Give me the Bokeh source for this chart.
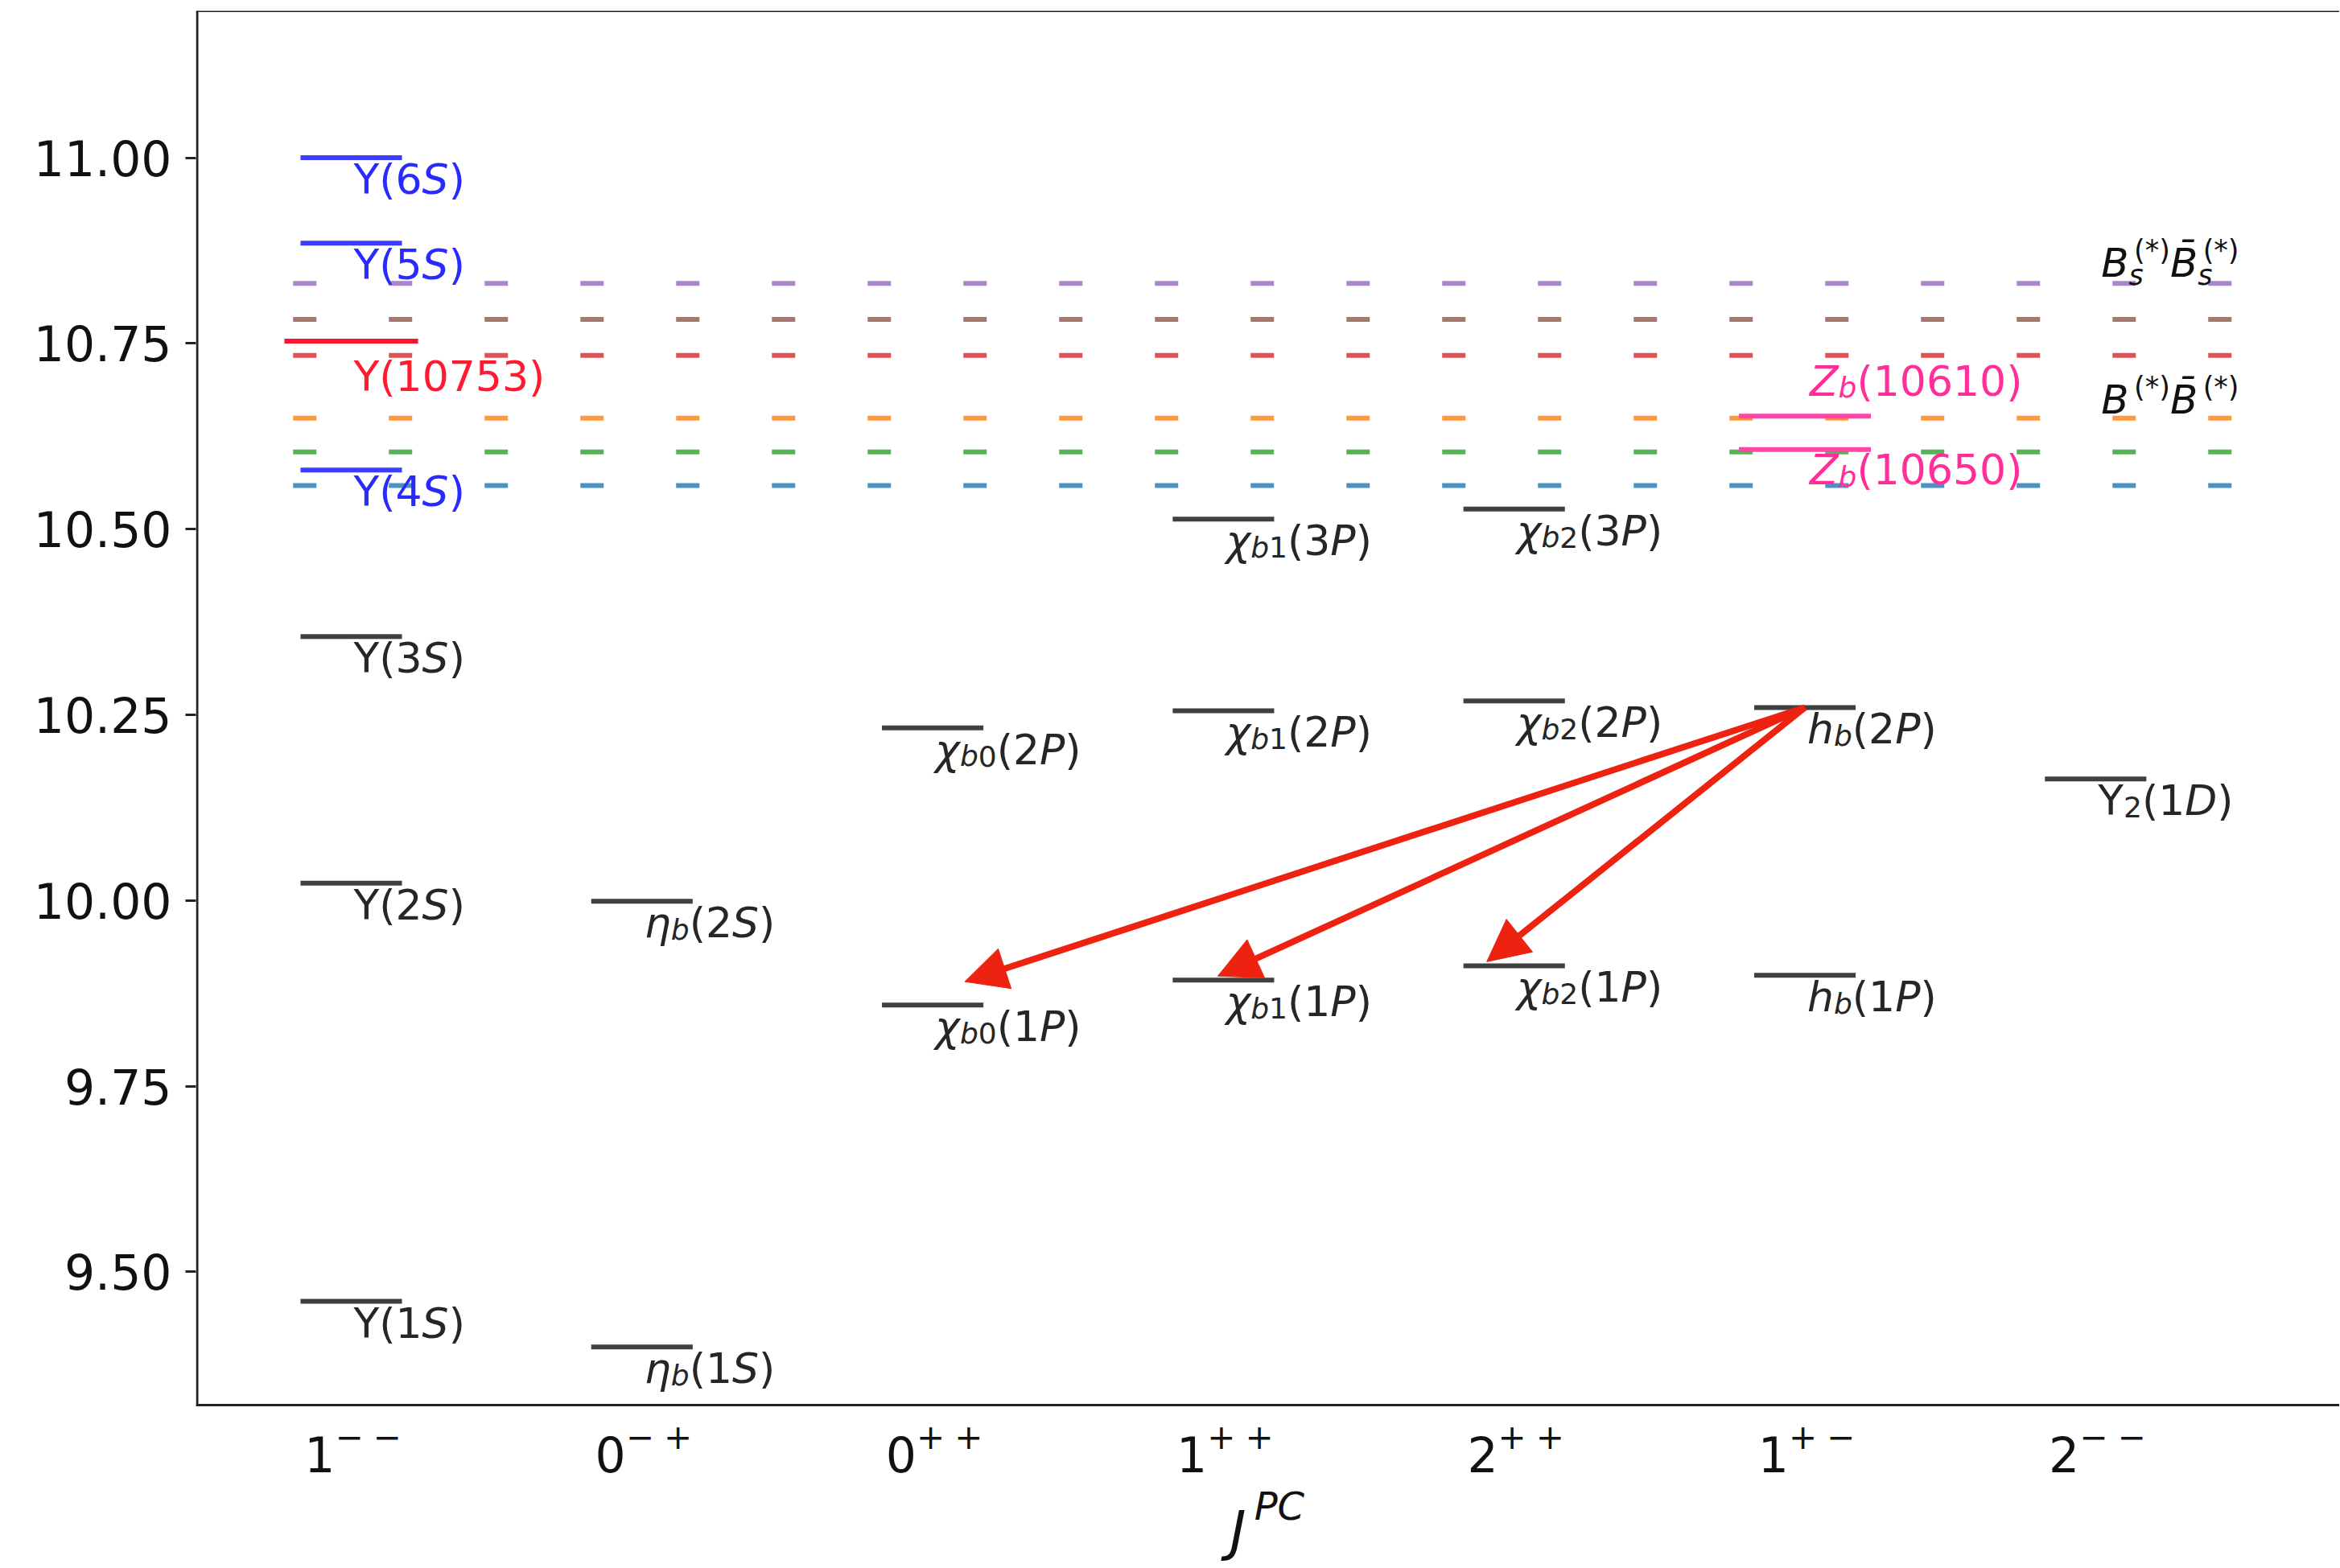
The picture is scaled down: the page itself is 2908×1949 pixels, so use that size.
from bokeh.plotting import figure
from bokeh.models import (Range1d, FixedTicker, PrintfTickFormatter, ColumnDataSource,
                          Arrow, NormalHead, Span)
from bokeh.core.properties import value
from bokeh.embed import file_html
from bokeh.resources import INLINE

# ---------------------------------------------------------------- data
# markup: $..$ italic, _{..} subscript, ^{..} superscript
jpc_labels = ["1^{\u2212}^{\u2212}", "0^{\u2212}^{+}", "0^{+}^{+}", "1^{+}^{+}",
              "2^{+}^{+}", "1^{+}^{\u2212}", "2^{\u2212}^{\u2212}"]
y_ticks = [9.50, 9.75, 10.00, 10.25, 10.50, 10.75, 11.00]

state_labels = ["Υ(1$S$)", "Υ(2$S$)", "Υ(3$S$)", "Υ(4$S$)", "Υ(10753)", "Υ(5$S$)", "Υ(6$S$)",
                "$η$_{$b$}(1$S$)", "$η$_{$b$}(2$S$)",
                "$χ$_{$b$0}(1$P$)", "$χ$_{$b$0}(2$P$)",
                "$χ$_{$b$1}(1$P$)", "$χ$_{$b$1}(2$P$)", "$χ$_{$b$1}(3$P$)",
                "$χ$_{$b$2}(1$P$)", "$χ$_{$b$2}(2$P$)", "$χ$_{$b$2}(3$P$)",
                "$h$_{$b$}(1$P$)", "$h$_{$b$}(2$P$)",
                "$Z$_{$b$}(10610)", "$Z$_{$b$}(10650)",
                "Υ_{2}(1$D$)"]
state_jpc = [0, 0, 0, 0, 0, 0, 0,
             1, 1,
             2, 2,
             3, 3, 3,
             4, 4, 4,
             5, 5,
             5, 5,
             6]
state_mass = [9.4603, 10.0233, 10.3552, 10.5794, 10.7530, 10.8850, 11.0000,
              9.3990, 9.9990,
              9.8594, 10.2325,
              9.8928, 10.2555, 10.5134,
              9.9122, 10.2687, 10.5270,
              9.8993, 10.2598,
              10.6072, 10.6522,
              10.1637]
state_kind = ["bb", "bb", "bb", "ups", "y", "ups", "ups",
              "bb", "bb",
              "bb", "bb",
              "bb", "bb", "bb",
              "bb", "bb", "bb",
              "bb", "bb",
              "zb", "zb",
              "bb"]

threshold_names = ["BB̄", "BB̄*", "B*B̄*", "BsB̄s", "BsB̄s*", "Bs*B̄s*"]
threshold_mass = [10.5587, 10.6040, 10.6494, 10.7338, 10.7823, 10.8308]

channel_labels = ["$B$^{(*)}$B\u0304$^{(*)}", "$B$^{(*)}_{$s$}$B\u0304$^{(*)}_{$s$}"]
channel_line = [2, 5]

transition_from = 18          # h_b(2P)
transition_to = [9, 11, 14]   # chi_b0(1P), chi_b1(1P), chi_b2(1P)

axis_title = "$J$^{$PC$}"

# ---------------------------------------------------------------- layout / style
X_UNIT = 361.3                      # px per J^PC column
BL, BT = 243, 13
FW, FH = 2664, 1934
X0 = -193 / X_UNIT
X1 = X0 + FW / X_UNIT
Y1 = 11.1977
SY = 923.28
Y0 = Y1 - FH / SY
Y_AXIS = 9.3207                     # where the bottom spine sits
SX = FW / (X1 - X0)


def dx(px):
    return px / SX


def dy(px):
    return px / SY


FONT = "DejaVu Sans"
ADV = {'(': .390, ')': .390, '*': .500, 'S': .635, 'P': .603, 'D': .770, 'Z': .685,
       'B': .686, 'b': .635, 'h': .634, 's': .521, 'Υ': .611, 'η': .634, 'χ': .592,
       'J': .295, 'C': .698, '\u0304': 0.0, '+': .838, '\u2212': .838}
for d in "0123456789":
    ADV[d] = .636


def twidth(s):
    return sum(ADV.get(c, .6) for c in s)


def parse(markup):
    toks = []
    state = {"it": False, "lv": 0, "buf": ""}

    def flush():
        if state["buf"]:
            toks.append((state["buf"], state["it"], state["lv"]))
            state["buf"] = ""
    i = 0
    while i < len(markup):
        c = markup[i]
        if c == '$':
            flush(); state["it"] = not state["it"]; i += 1; continue
        if c in '_^' and i + 1 < len(markup) and markup[i + 1] == '{':
            flush(); state["lv"] = -1 if c == '_' else 1; i += 2; continue
        if c == '}':
            flush(); state["lv"] = 0; i += 1; continue
        state["buf"] += c
        i += 1
    flush()
    return toks


def layout(markup, main, script, raise_px, drop_px, drop_both_px, kern_em, gap=0.0):
    toks = parse(markup)
    out = []
    cur = 0.0
    last_it = False
    i = 0
    while i < len(toks):
        t, it, lv = toks[i]
        if lv == 0:
            out.append((cur, 0.0, t, main, it))
            cur += twidth(t) * main
            last_it = it
            i += 1
            continue
        j = i
        while j < len(toks) and toks[j][2] != 0:
            j += 1
        cl = toks[i:j]
        has_sup = any(c[2] == 1 for c in cl)
        has_sub = any(c[2] == -1 for c in cl)
        xs_sup = cur + (kern_em * main if last_it else 0.0)
        xs_sub = cur
        n_sup = 0
        for t2, it2, lv2 in cl:
            if lv2 == 1:
                if n_sup:
                    xs_sup += gap
                out.append((xs_sup, raise_px, t2, script, it2))
                xs_sup += twidth(t2) * script
                n_sup += 1
            else:
                out.append((xs_sub, -(drop_both_px if has_sup else drop_px), t2, script, it2))
                xs_sub += twidth(t2) * script
        ends = []
        if has_sup:
            ends.append(xs_sup)
        if has_sub:
            ends.append(xs_sub)
        cur = max(ends)
        i = j
    return out, cur


BAR_COL = {"bb": "#404040", "ups": "#3d3dff", "y": "#ff1430", "zb": "#ff45a6"}
TXT_COL = {"bb": "#262626", "ups": "#2a2aff", "y": "#ff1a30", "zb": "#ff2e98"}
HALF_W = {"bb": 0.1745, "ups": 0.1745, "y": 0.23, "zb": 0.227}
THR_COL = ["#1f77b4", "#2ca02c", "#ff7f0e", "#d62728", "#8c564b", "#9467bd"]
SPINE = "#222222"

p = figure(frame_width=FW, frame_height=FH, output_backend="svg", toolbar_location=None,
           x_range=Range1d(X0, X1), y_range=Range1d(Y0, Y1), x_axis_location=None,
           min_border_left=BL, min_border_right=0, min_border_top=BT, min_border_bottom=1)
p.background_fill_color = "white"
p.border_fill_color = "white"
p.outline_line_color = None
p.xgrid.visible = False
p.ygrid.visible = False

# spines
p.add_layout(Span(location=Y1, dimension='width', line_color=SPINE, line_width=3))
p.add_layout(Span(location=Y_AXIS, dimension='width', line_color=SPINE, line_width=3))
p.segment(x0=[X0 + dx(1.5)], y0=[Y_AXIS - dy(1.5)], x1=[X0 + dx(1.5)], y1=[Y1],
          line_color=SPINE, line_width=3)

# thresholds (dashed)
thr_src = ColumnDataSource(dict(x0=[-0.2] * len(threshold_mass), x1=[6.5] * len(threshold_mass),
                                y=threshold_mass, c=THR_COL[:len(threshold_mass)]))
p.segment(x0='x0', y0='y', x1='x1', y1='y', source=thr_src, line_color='c', line_alpha=0.8,
          line_width=6, line_dash="29 90", line_cap="butt")

# state levels
bar_src = ColumnDataSource(dict(
    x0=[j - HALF_W[k] for j, k in zip(state_jpc, state_kind)],
    x1=[j + HALF_W[k] for j, k in zip(state_jpc, state_kind)],
    y=state_mass,
    c=[BAR_COL[k] for k in state_kind]))
p.segment(x0='x0', y0='y', x1='x1', y1='y', source=bar_src, line_color='c', line_width=6,
          line_cap="butt")

# texts
rows = dict(x=[], y=[], text=[], fsize=[], fstyle=[], fcolor=[])
BASE_FIX = 0.29   # bokeh draws 'alphabetic' text this fraction of the size lower


def put(markup, ax, ay, color, main=52, script=36, raise_px=16, drop_px=8, drop_both_px=15,
        kern_em=0.13, gap=0.0, center=False, cshift=0.0):
    segs, total = layout(markup, main, script, raise_px, drop_px, drop_both_px, kern_em, gap)
    off = -total / 2 + cshift if center else 0.0
    for px, up, t, size, it in segs:
        rows["x"].append(ax + dx(px + off))
        rows["y"].append(ay + dy(up + BASE_FIX * main))
        rows["text"].append(t)
        rows["fsize"].append("%dpx" % size)
        rows["fstyle"].append("italic" if it else "normal")
        rows["fcolor"].append(color)


label_shift = {4: -59, 19: 70, 20: -82}   # vertical pixel shifts of specific labels
label_dx = {19: 6, 20: 6}
for k, (lab, j, m, kind) in enumerate(zip(state_labels, state_jpc, state_mass, state_kind)):
    put(lab, j + dx(label_dx.get(k, 3)), m + dy(label_shift.get(k, -42)), TXT_COL[kind])

ch_up = [8, 11]
for lab, li, up in zip(channel_labels, channel_line, ch_up):
    put(lab, 6 + dx(7), threshold_mass[li] + dy(up), "#111111", main=50, script=35)

# x tick labels (J^PC values) below the bottom spine
for j, lab in enumerate(jpc_labels):
    put(lab, j, Y_AXIS - dy(78), "#111111", main=60, script=42, raise_px=21.5, kern_em=0,
        gap=12, center=True, cshift=2)

# axis title
put(axis_title, 3 + dx(8), Y_AXIS - dy(176), "#111111", main=68, script=48, raise_px=31,
    kern_em=0.15)

txt_src = ColumnDataSource(rows)
p.text(x='x', y='y', text='text', source=txt_src, text_font=value(FONT),
       text_font_size='fsize', text_font_style='fstyle', text_color='fcolor',
       text_align='left', text_baseline='alphabetic')

# transitions
tip_px = [(40, 29), (-7, 5), (-34, 5)]
arr_src = ColumnDataSource(dict(
    x0=[state_jpc[transition_from]] * len(transition_to),
    y0=[state_mass[transition_from]] * len(transition_to),
    x1=[state_jpc[t] + dx(o[0]) for t, o in zip(transition_to, tip_px)],
    y1=[state_mass[t] + dy(o[1]) for t, o in zip(transition_to, tip_px)]))
p.add_layout(Arrow(end=NormalHead(size=52, fill_color="#ee2211", line_color="#ee2211",
                                  line_width=1),
                   x_start='x0', y_start='y0', x_end='x1', y_end='y1', source=arr_src,
                   line_color="#ee2211", line_width=8))

# y axis
ya = p.yaxis[0]
ya.axis_line_color = None
ya.major_label_text_font = FONT
ya.major_label_text_font_size = "60px"
ya.major_label_text_color = "#111111"
ya.minor_tick_line_color = None
ya.ticker = FixedTicker(ticks=y_ticks)
ya.formatter = PrintfTickFormatter(format="%.2f")
ya.major_tick_line_width = 3
ya.major_tick_line_color = SPINE
ya.major_tick_out = 13
ya.major_tick_in = 0
ya.major_label_standoff = 17

open("out.html", "w").write(file_html(p, INLINE))
